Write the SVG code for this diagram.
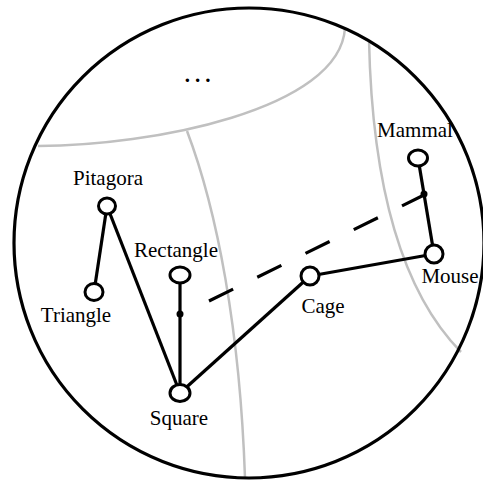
<svg xmlns="http://www.w3.org/2000/svg" width="483" height="481" viewBox="0 0 483 481">
<style>
.region{fill:none;stroke:#c0c0c0;stroke-width:2.5}
.edge{stroke:#000;stroke-width:3.2;fill:none}
.node ellipse{fill:#fff;stroke:#000;stroke-width:3}
.lbl{font-size:21px;fill:#000;text-anchor:middle}
</style>
<rect width="483" height="481" fill="#fff"/>
<g id="regions">
<path class="region" d="M 38 146 C 150 146 340 110 345 28"/>
<path class="region" d="M 187 131 C 217 210 240 330 245 478"/>
<path class="region" d="M 369 40 C 372 180 400 290 461 352"/>
</g>
<circle cx="249" cy="243" r="235" fill="none" stroke="#000" stroke-width="3.2"/>
<g font-family="'Liberation Serif', 'Times New Roman', 'DejaVu Serif', serif">
<text class="lbl" x="200" y="82" font-weight="bold" letter-spacing="5">...</text>
</g>
<g id="connectors">
<line class="edge" x1="107" y1="206" x2="94" y2="292"/>
<line class="edge" x1="107" y1="206" x2="180" y2="393"/>
<line class="edge" x1="180" y1="275" x2="180" y2="393"/>
<line class="edge" x1="180" y1="393" x2="310" y2="276"/>
<line class="edge" x1="310" y1="276" x2="434" y2="254"/>
<line class="edge" x1="418" y1="158" x2="434" y2="254"/>
<line class="edge" x1="209" y1="301" x2="426" y2="194" stroke-dasharray="26.9 26.9"/>
<circle cx="180" cy="314" r="3.5" fill="#000"/>
<circle cx="424" cy="194" r="3.5" fill="#000"/>
</g>
<g font-family="'Liberation Serif', 'Times New Roman', 'DejaVu Serif', serif">
<g id="Pitagora" class="node"><ellipse cx="107" cy="206" rx="8.5" ry="8"/><text class="lbl" x="108" y="185">Pitagora</text></g>
<g id="Triangle" class="node"><ellipse cx="94" cy="292" rx="9" ry="8.5"/><text class="lbl" x="76" y="322">Triangle</text></g>
<g id="Rectangle" class="node"><ellipse cx="180" cy="275" rx="10" ry="8"/><text class="lbl" x="176" y="257">Rectangle</text></g>
<g id="Square" class="node"><ellipse cx="180" cy="393" rx="10" ry="8.5"/><text class="lbl" x="179" y="425">Square</text></g>
<g id="Cage" class="node"><ellipse cx="310" cy="276" rx="9" ry="9"/><text class="lbl" x="323" y="313">Cage</text></g>
<g id="Mouse" class="node"><ellipse cx="434" cy="254" rx="9" ry="9"/><text class="lbl" x="450" y="283">Mouse</text></g>
<g id="Mammal" class="node"><ellipse cx="418" cy="158" rx="9.5" ry="8"/><text class="lbl" x="415" y="137">Mammal</text></g>
</g>
</svg>
